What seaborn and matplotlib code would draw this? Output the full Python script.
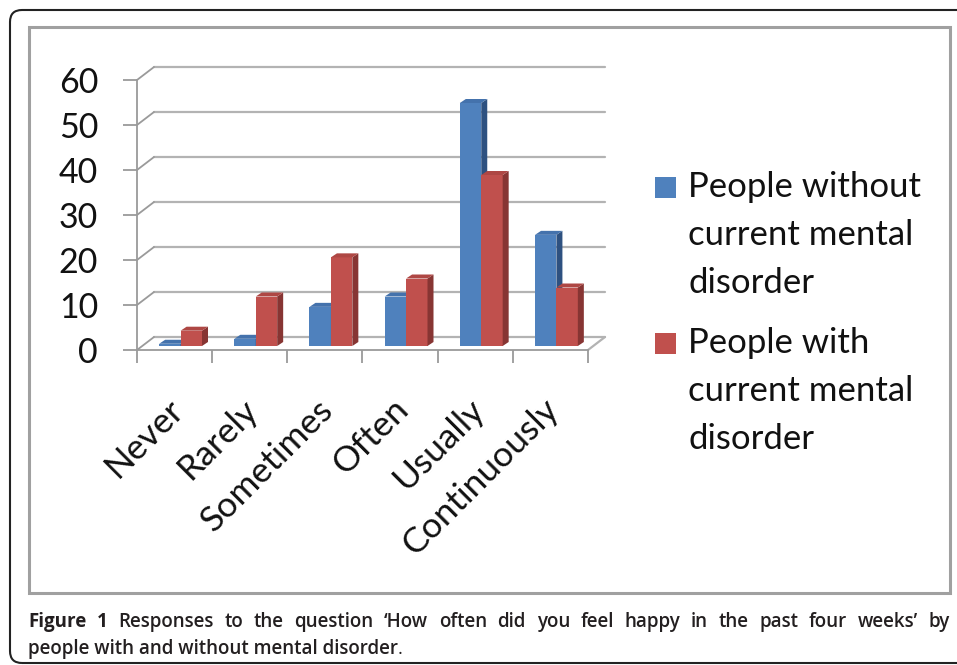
import numpy as np
import pandas as pd
import seaborn as sns
import matplotlib.pyplot as plt
from matplotlib.patches import Polygon, Rectangle, FancyBboxPatch
from matplotlib.transforms import ScaledTranslation

categories = ["Never", "Rarely", "Sometimes", "Often", "Usually", "Continuously"]
series_names = ["People without\ncurrent mental\ndisorder", "People with\ncurrent mental\ndisorder"]
without_disorder = [0.5, 1.6, 8.7, 11.0, 54.0, 24.7]
with_disorder = [3.4, 11.0, 19.7, 15.0, 38.0, 13.0]
y_ticks = [0, 10, 20, 30, 40, 50, 60]
caption_line1 = "Figure 1 Responses to the question \u2018How often did you feel happy in the past four weeks\u2019 by"
caption_line2 = "people with and without mental disorder"

front_colors = ["#4F81BD", "#C0504D"]
side_colors = ["#2E5180", "#873533"]
top_colors = ["#4472AC", "#AE4744"]
grid_c = "#B3B3B3"
axis_c = "#9A9A9A"

df = pd.DataFrame({
    "category": categories * 2,
    "value": without_disorder + with_disorder,
    "group": [series_names[0]] * len(categories) + [series_names[1]] * len(categories),
})

sns.set_theme(style="white")
plt.rcParams["font.family"] = ["Lato", "DejaVu Sans"]

W, H = 957, 665
fig = plt.figure(figsize=(W / 100, H / 100), dpi=100)
fig.patch.set_facecolor("white")


def box(x0, y0, x1, y1):
    # pixel box, origin top-left -> figure fraction rect
    return [x0 / W, 1 - y1 / H, (x1 - x0) / W, (y1 - y0) / H]


# outer rounded frame and inner chart border
fig.patches.append(FancyBboxPatch((0.10, 0.02), 9.9, 6.53, boxstyle="round,pad=0,rounding_size=0.12",
                                  transform=fig.dpi_scale_trans, fc="none", ec="#222222", lw=1.5, zorder=-2))
fig.patches.append(Rectangle((29 / W, 1 - 593 / H), 921 / W, 566 / H, transform=fig.transFigure,
                             fc="none", ec="#A0A0A0", lw=2.2, zorder=-1))

ax = fig.add_axes(box(137, 80, 588, 350))
ax.patch.set_alpha(0)
sns.barplot(data=df, x="category", y="value", hue="group", order=categories, hue_order=series_names,
            palette=front_colors, width=0.57, saturation=1, legend=False, ax=ax)
ax.set_xlim(-0.5, len(categories) - 0.5)
ax.set_ylim(0, 60)
ax.set_xlabel("")
ax.set_ylabel("")

# pixel sizes of one data unit, used for the fake depth
ux = ax.transData.transform((1, 0))[0] - ax.transData.transform((0, 0))[0]
uy = ax.transData.transform((0, 1))[1] - ax.transData.transform((0, 0))[1]
dx, dy = 6 / ux, 4 / uy
wx, wy = 17 / ux, 13 / uy
bar_shift = ax.transData + ScaledTranslation(0.06, 0.04, fig.dpi_scale_trans)

# back wall gridlines and left side wall edges
x_lo, x_hi = -0.5, len(categories) - 0.5
for v in y_ticks:
    ax.plot([x_lo + wx, x_hi + wx], [v + wy, v + wy], color=grid_c, lw=1.6, clip_on=False, zorder=0.5)
    ax.plot([x_lo, x_lo + wx], [v, v + wy], color=axis_c, lw=1.3, clip_on=False, zorder=0.5)
ax.plot([x_hi, x_hi + wx], [0, wy], color=grid_c, lw=1.6, clip_on=False, zorder=0.5)

# bars with side and top faces
bars = list(ax.patches)
for i, bar in enumerate(bars):
    s = i // len(categories)
    bar.set_transform(bar_shift)
    bar.set_edgecolor("none")
    bar.set_clip_on(False)
    bar.set_zorder(2 + s)
    x0, w, h = bar.get_x(), bar.get_width(), bar.get_height()
    x1 = x0 + w
    side = Polygon([(x1, 0), (x1 + dx, dy), (x1 + dx, h + dy), (x1, h)], closed=True,
                   fc=side_colors[s], ec="none", transform=bar_shift, clip_on=False, zorder=2 + s)
    top = Polygon([(x0, h), (x1, h), (x1 + dx, h + dy), (x0 + dx, h + dy)], closed=True,
                  fc=top_colors[s], ec="none", transform=bar_shift, clip_on=False, zorder=2 + s)
    ax.add_patch(side)
    ax.add_patch(top)

for sp in ["top", "right"]:
    ax.spines[sp].set_visible(False)
for sp in ["left", "bottom"]:
    ax.spines[sp].set_color(axis_c)
    ax.spines[sp].set_linewidth(1.3)

ax.set_yticks(y_ticks)
ax.set_yticklabels([str(v) for v in y_ticks])
ax.tick_params(axis="y", left=True, length=10, width=1.3, color=axis_c, pad=18, labelsize=24.5, labelcolor="#111111")
ax.set_xticks(range(len(categories)))
ax.set_xticklabels(categories, rotation=45, ha="right", va="top", rotation_mode="anchor")
ax.set_xticks(np.arange(-0.5, len(categories), 1), minor=True)
ax.tick_params(axis="x", which="major", bottom=True, length=0, pad=31, labelsize=25.5, labelcolor="#111111")
ax.tick_params(axis="x", which="minor", bottom=True, length=9, width=1.3, color=axis_c)
for lab in ax.get_xticklabels():
    lab.set_transform(lab.get_transform() + ScaledTranslation(-0.08, 0, fig.dpi_scale_trans))

# legend
for k, name in enumerate(series_names):
    base = 197 + k * 156
    fig.patches.append(Rectangle((655 / W, 1 - (base + 1) / H), 21 / W, 21 / H, transform=fig.transFigure,
                                 fc=front_colors[k], ec="none"))
    for j, line in enumerate(name.split("\n")):
        fig.text(688 / W, 1 - (base + 48 * j) / H, line, fontsize=25, va="baseline", ha="left", color="#111111")

# caption, first line justified across the box
cap_font = ["Open Sans", "DejaVu Sans"]
cap_size = 13.5
renderer = fig.canvas.get_renderer()
words = caption_line1.split(" ")
texts = []
for j, wd in enumerate(words):
    weight = "bold" if j < 2 else "semibold"
    texts.append(fig.text(0, 1 - 627 / H, wd, fontsize=cap_size, fontweight=weight, family=cap_font,
                          va="baseline", color="#231F20"))
widths = [t.get_window_extent(renderer).width for t in texts]
gap = (950 - 28 - sum(widths)) / (len(texts) - 1)
xpos = 28
for t, wdt in zip(texts, widths):
    t.set_x(xpos / W)
    xpos += wdt + gap

t2 = fig.text(28 / W, 1 - 654 / H, caption_line2, fontsize=cap_size, fontweight="semibold", family=cap_font,
              va="baseline", color="#231F20")
x_end = t2.get_window_extent(renderer).x1
fig.text(x_end / W, 1 - 654 / H, ".", fontsize=cap_size, family=cap_font, va="baseline", color="#231F20")

fig.savefig("out.png", dpi=100)
